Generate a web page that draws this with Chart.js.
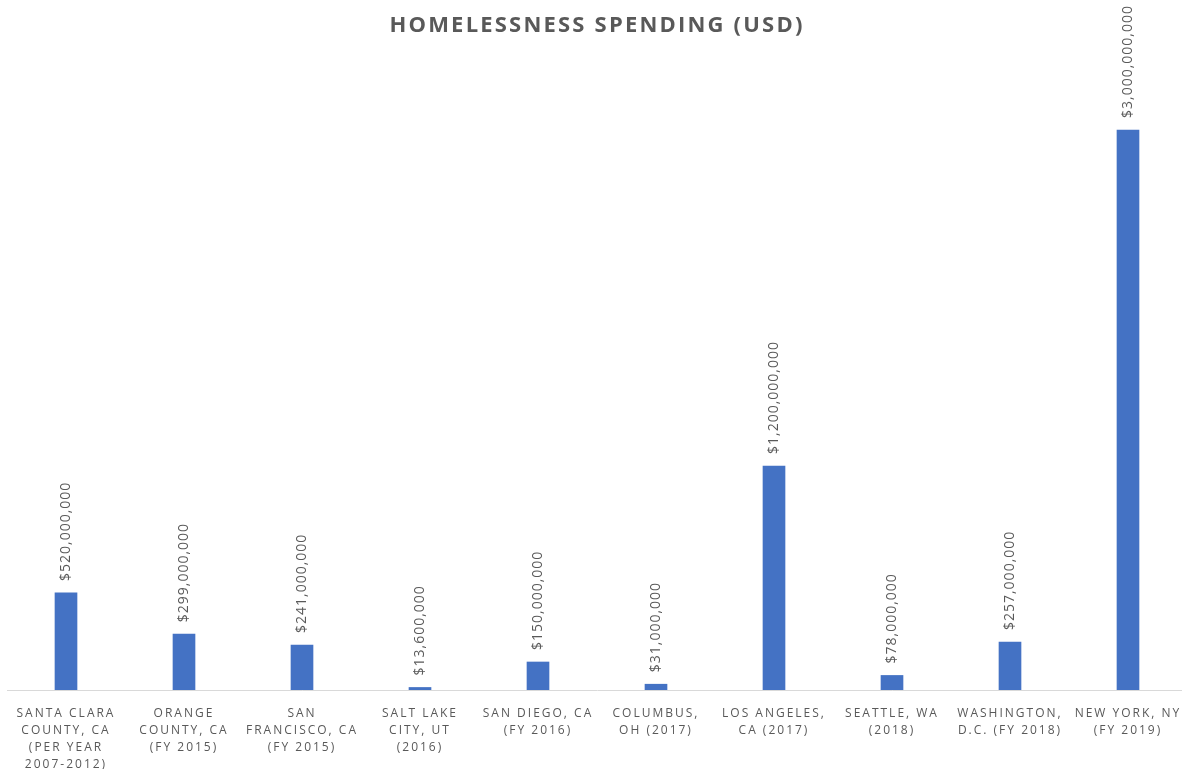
<!DOCTYPE html>
<html>
<head>
<meta charset="utf-8">
<script src="https://cdn.jsdelivr.net/npm/chart.js@4"></script>
<style>
html,body{margin:0;padding:0;background:#fff;overflow:hidden;}
</style>
</head>
<body>
<canvas id="c" width="1190" height="769"></canvas>
<script>
const categories = [
  ['SANTA CLARA', 'COUNTY, CA', '(PER YEAR', '2007-2012)'],
  ['ORANGE', 'COUNTY, CA', '(FY 2015)'],
  ['SAN', 'FRANCISCO, CA', '(FY 2015)'],
  ['SALT LAKE', 'CITY, UT', '(2016)'],
  ['SAN DIEGO, CA', '(FY 2016)'],
  ['COLUMBUS,', 'OH (2017)'],
  ['LOS ANGELES,', 'CA (2017)'],
  ['SEATTLE, WA', '(2018)'],
  ['WASHINGTON,', 'D.C. (FY 2018)'],
  ['NEW YORK, NY', '(FY 2019)']
];
const spending = [520000000, 299000000, 241000000, 13600000, 150000000, 31000000, 1200000000, 78000000, 257000000, 3000000000];
const titleText = 'HOMELESSNESS SPENDING (USD)';

const fmt = v => '$' + v.toLocaleString('en-US');

const customText = {
  id: 'customText',
  beforeDraw(chart) {
    chart.ctx.letterSpacing = '2px';
  },
  afterDatasetsDraw(chart) {
    const ctx = chart.ctx;
    const meta = chart.getDatasetMeta(0);
    ctx.save();
    ctx.letterSpacing = '1px';
    ctx.font = '14px "Open Sans"';
    ctx.fillStyle = '#595959';
    ctx.textAlign = 'left';
    ctx.textBaseline = 'middle';
    meta.data.forEach((bar, i) => {
      ctx.save();
      ctx.translate(bar.x, bar.y - 12);
      ctx.rotate(-Math.PI / 2);
      ctx.fillText(fmt(spending[i]), 0, 0);
      ctx.restore();
    });
    ctx.restore();
  },
  afterDraw(chart) {
    const ctx = chart.ctx;
    ctx.save();
    ctx.letterSpacing = '2.2px';
    ctx.font = 'bold 22px "Open Sans"';
    ctx.fillStyle = '#595959';
    ctx.textAlign = 'center';
    ctx.textBaseline = 'middle';
    ctx.fillText(titleText, 597, 26);
    ctx.restore();
    chart.ctx.letterSpacing = '0px';
  }
};

new Chart(document.getElementById('c'), {
  type: 'bar',
  data: {
    labels: categories,
    datasets: [{
      data: spending,
      backgroundColor: '#4472C4',
      barThickness: 22
    }]
  },
  options: {
    responsive: false,
    animation: false,
    layout: { padding: { top: 18, left: 7, right: 3, bottom: 0 } },
    plugins: { legend: { display: false }, tooltip: { enabled: false } },
    scales: {
      y: { display: false, min: 0, max: 3600000000 },
      x: {
        grid: { display: false, drawTicks: false },
        border: { display: true, color: '#d9d9d9', width: 1 },
        ticks: {
          color: '#595959',
          font: { family: '"Open Sans"', size: 12, lineHeight: 17/12 },
          padding: 15,
          maxRotation: 0,
          autoSkip: false
        },
        afterFit(scale) { scale.height = 79; }
      }
    }
  },
  plugins: [customText]
});
</script>
</body>
</html>
